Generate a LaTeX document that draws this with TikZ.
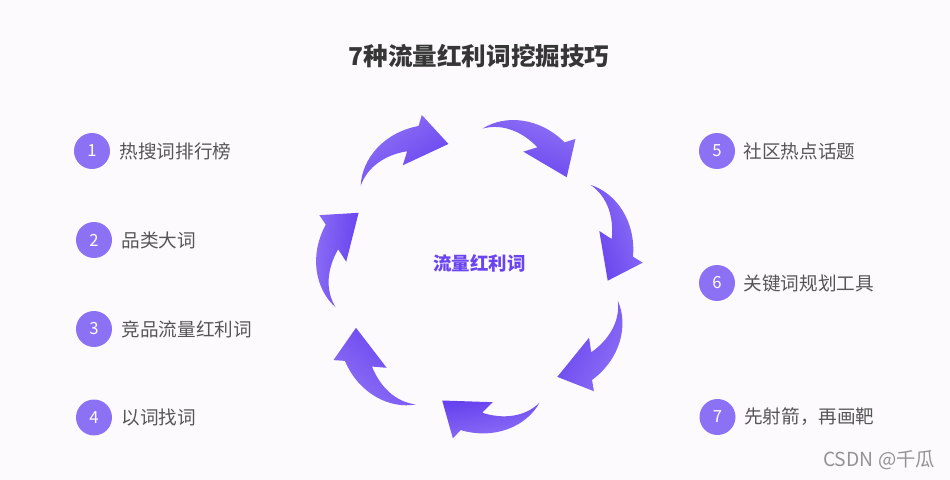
\documentclass[tikz,border=0pt]{standalone}
\usepackage{fontspec}
\setmainfont{Noto Sans CJK SC}
\usepackage{tikz}
\usetikzlibrary{positioning}
\definecolor{fond}{HTML}{FDFAFE}
\definecolor{violetclair}{HTML}{8F73F6}
\definecolor{violetfonce}{HTML}{6641EE}
\definecolor{pastille}{HTML}{8C71F5}
\definecolor{gristexte}{HTML}{565656}
\definecolor{titregris}{HTML}{363636}
\definecolor{centreviolet}{HTML}{6A44EE}

\begin{document}
\begin{tikzpicture}[x=0.02cm,y=0.02cm,
    numdot/.style={circle,fill=pastille,text=white,minimum size=0.72cm,inner sep=0pt,
                   font=\fontsize{9.5}{12}\selectfont},
    itemtext/.style={inner sep=0pt,text=gristexte,font=\fontsize{10.6}{13}\selectfont}]
        % Fond
        \fill[fond] (0,0) rectangle (950,480);

        % Titre
        \node[font=\bfseries\fontsize{14}{16}\selectfont,text=titregris] (titre) at (479,424) {7种流量红利词挖掘技巧};

        % Flèches courbes autour du centre
        \foreach \rot in {105.4,49.9,0,-48.6,-101.5,-152.1,-203.8}{
            \pgfmathsetmacro\ang{\rot-70}
            \shade[top color=violetclair,bottom color=violetfonce,shading angle=\ang,
                   shift={(476,207)},rotate=\rot]
                (114.7,88) .. controls (140,80) and (160,52) .. (157,16.3)
                -- (166.7,10.3) -- (131.7,-7.7) -- (123.3,42) -- (135.7,34)
                .. controls (138,55) and (132,76) .. (114.7,88) -- cycle;
        }
        \node[font=\bfseries\fontsize{10.5}{12}\selectfont,text=centreviolet] (coeur) at (479.5,217) {流量红利词};

        % Colonne gauche
        \node[numdot] (n1) at (92,329) {1};
        \node[numdot] (n2) at (94,240) {2};
        \node[numdot] (n3) at (94,151) {3};
        \node[numdot] (n4) at (94,62.5) {4};
        \node[itemtext,right=0.18cm of n1] (t1) {热搜词排行榜};
        \node[itemtext,right=0.18cm of n2] (t2) {品类大词};
        \node[itemtext,right=0.18cm of n3] (t3) {竞品流量红利词};
        \node[itemtext,right=0.18cm of n4] (t4) {以词找词};

        % Colonne droite
        \node[numdot] (n5) at (717,329) {5};
        \node[numdot] (n6) at (717,197) {6};
        \node[numdot] (n7) at (717.5,63) {7};
        \node[itemtext,right=0.16cm of n5] (t5) {社区热点话题};
        \node[itemtext,right=0.16cm of n6] (t6) {关键词规划工具};
        \node[itemtext,right=0.16cm of n7] (t7) {先射箭，再画靶};

        % Filigrane
        \node[text=gray!85,font=\fontsize{11}{13}\selectfont] (marque) at (879,20) {CSDN @千瓜};
    \end{tikzpicture}
\end{document}
